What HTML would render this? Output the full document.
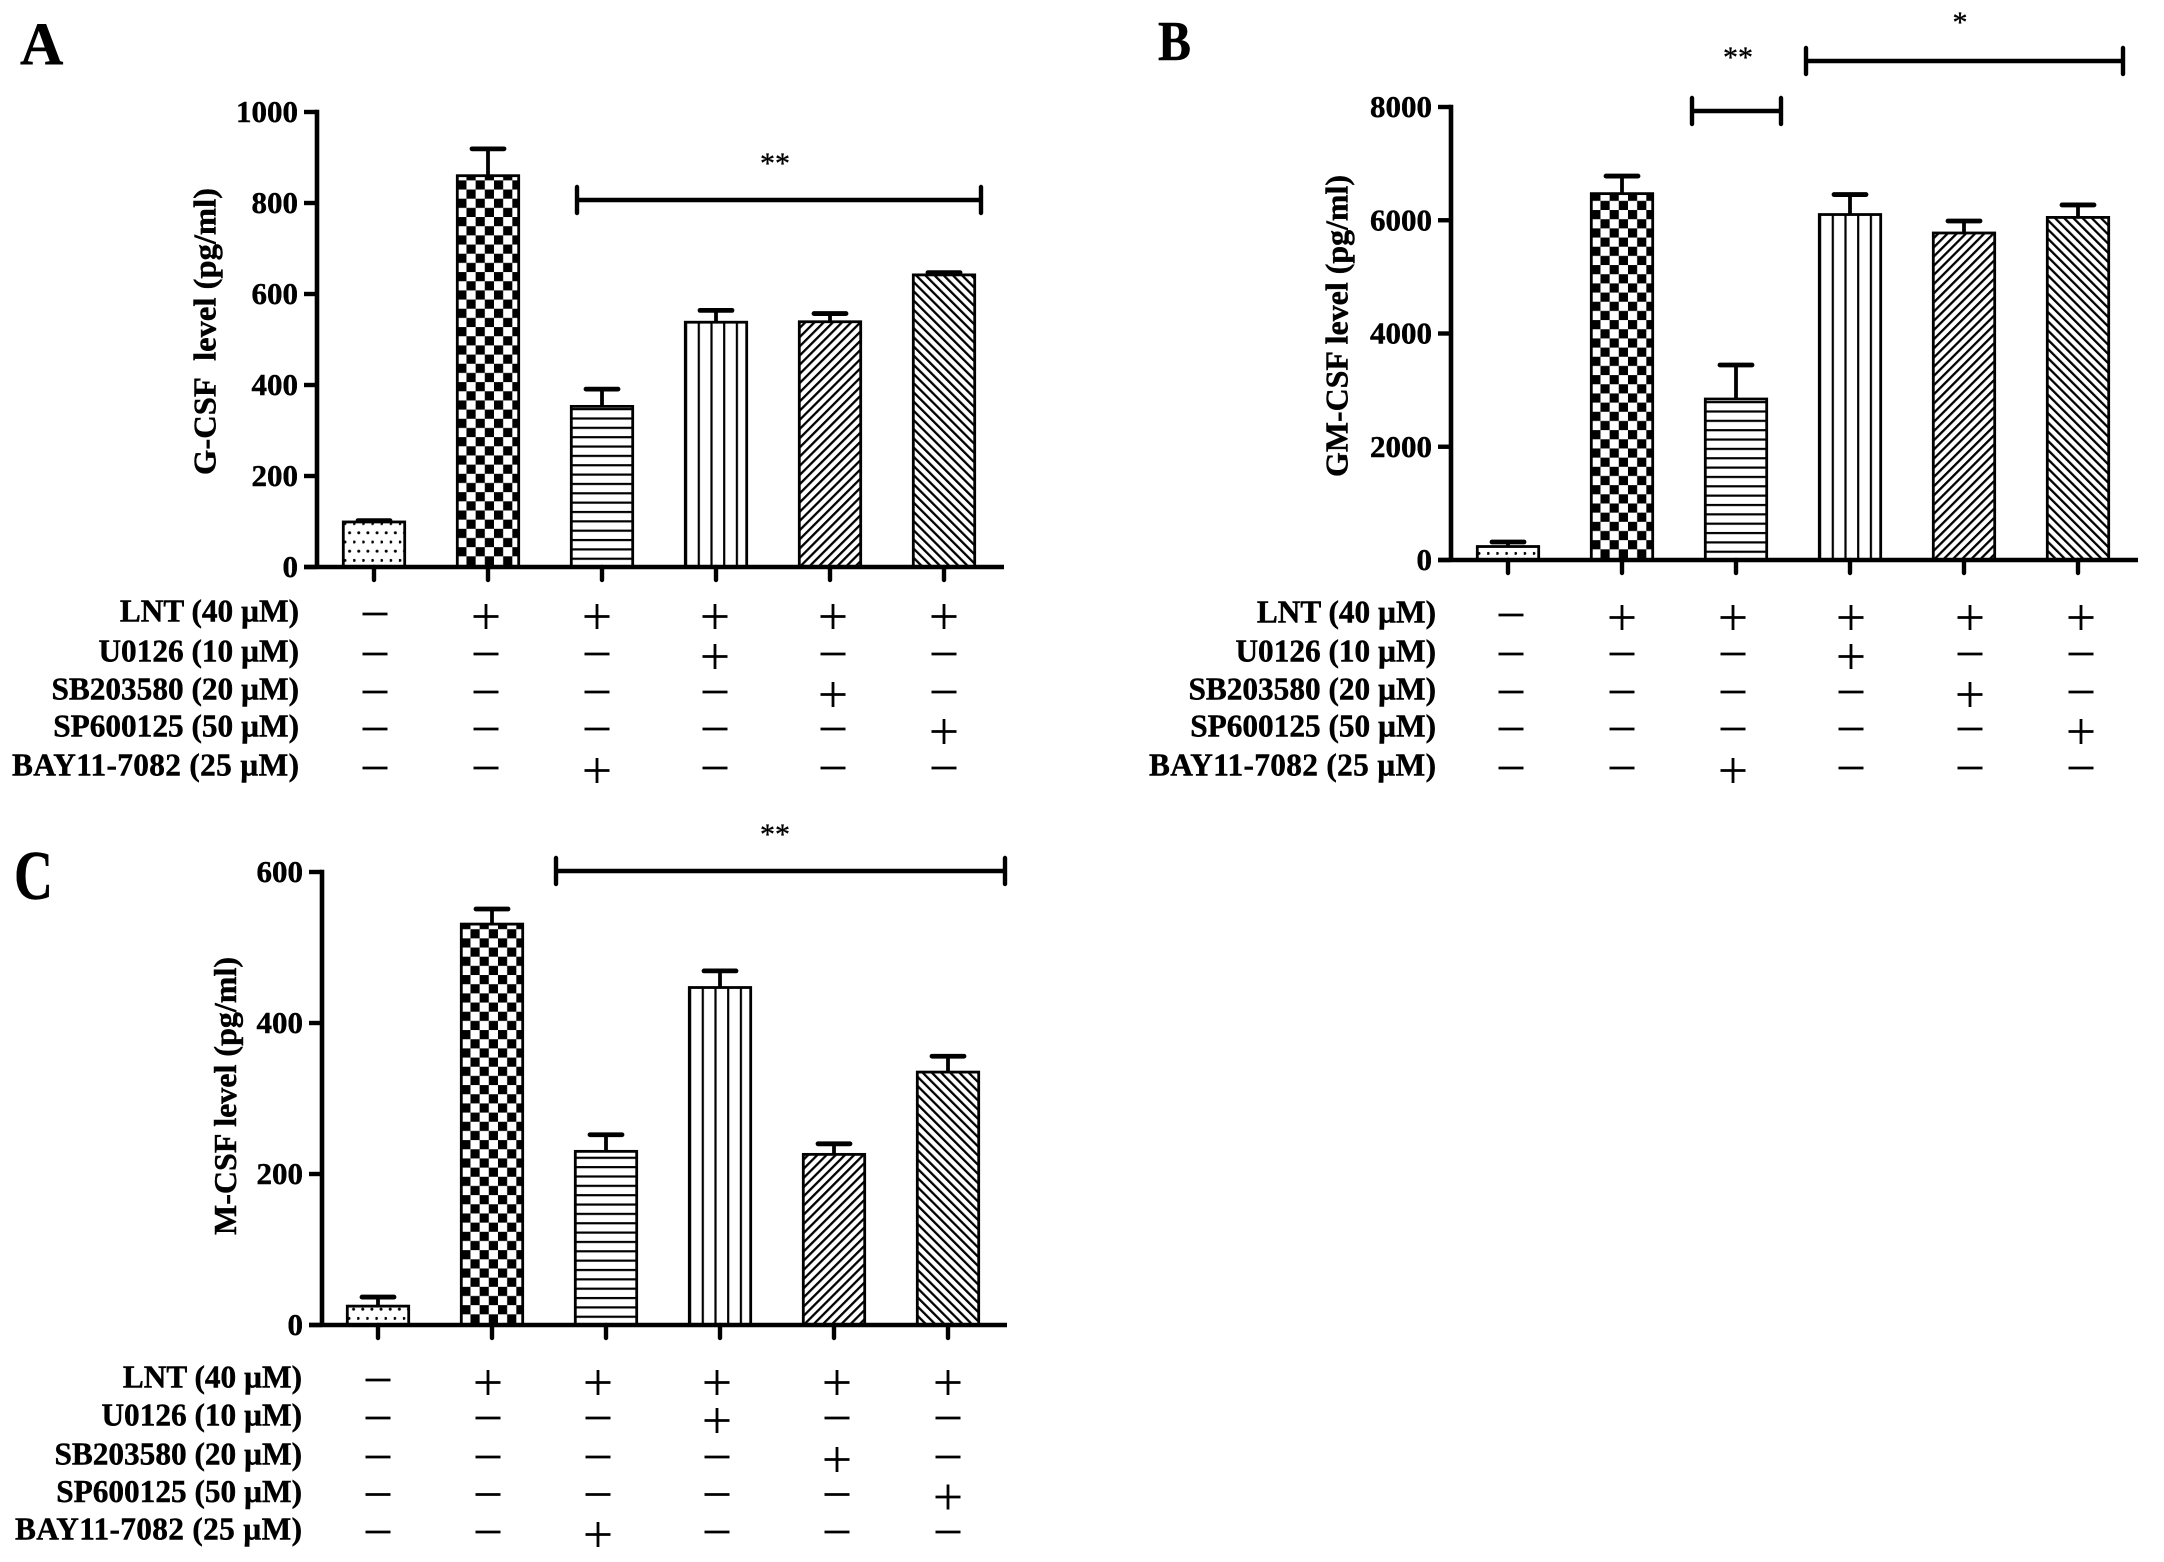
<!DOCTYPE html>
<html lang="en">
<head>
<meta charset="utf-8">
<title>G-CSF, GM-CSF and M-CSF levels</title>
<style>
html,body{margin:0;padding:0;background:#fff;}
svg{display:block;}
text{font-family:"Liberation Serif",serif;fill:#000;}
.b{font-weight:bold;stroke:#000;stroke-width:0.45px;}
.s{stroke:#000;stroke-width:0.35px;}
</style>
</head>
<body>
<svg id="figure" xmlns="http://www.w3.org/2000/svg" width="2164" height="1562" viewBox="0 0 2164 1562">
  <rect width="2164" height="1562" fill="#fff"/>
  <defs id="defs"></defs>
  <text class="b" x="20" y="64" font-size="60">A</text>
  <text class="b" x="1158" y="60" font-size="56" textLength="33" lengthAdjust="spacingAndGlyphs">B</text>
  <text class="b" x="14" y="899" font-size="70" textLength="39" lengthAdjust="spacingAndGlyphs">C</text>
  <text class="b" font-size="32" text-anchor="middle" transform="translate(215.5 331.5) rotate(-90)" textLength="287" lengthAdjust="spacingAndGlyphs">G-CSF&#160;&#160;level (pg/ml)</text>
  <text class="b" font-size="32" text-anchor="middle" transform="translate(1347.5 326) rotate(-90)" textLength="302" lengthAdjust="spacingAndGlyphs">GM-CSF level (pg/ml)</text>
  <text class="b" font-size="32" text-anchor="middle" transform="translate(236 1096) rotate(-90)" textLength="278" lengthAdjust="spacingAndGlyphs">M-CSF level (pg/ml)</text>
  <text class="s" x="775" y="173" font-size="30" text-anchor="middle">**</text>
  <text class="s" x="1738" y="67" font-size="30" text-anchor="middle">**</text>
  <text class="s" x="1960" y="32" font-size="30" text-anchor="middle">*</text>
  <text class="s" x="775" y="844" font-size="30" text-anchor="middle">**</text>
</svg>
<script>
// ---- chart data ----
const gcsfValues  = [99, 860, 353, 538, 539, 642];
const gcsfErrors  = [3, 59, 38, 26, 18, 5];
const gcsfTicks   = [0, 200, 400, 600, 800, 1000];
const gmcsfValues = [238, 6470, 2843, 6101, 5775, 6050];
const gmcsfErrors = [80, 310, 601, 353, 212, 220];
const gmcsfTicks  = [0, 2000, 4000, 6000, 8000];
const mcsfValues  = [25, 531, 230, 447, 226, 335];
const mcsfErrors  = [12, 20, 22, 22, 14, 21];
const mcsfTicks   = [0, 200, 400, 600];
const treatmentLabels = ["LNT (40 \u00b5M)", "U0126 (10 \u00b5M)", "SB203580 (20 \u00b5M)", "SP600125 (50 \u00b5M)", "BAY11-7082 (25 \u00b5M)"];
const treatmentLnt = [0, 1, 1, 1, 1, 1];
const treatmentU0126 = [0, 0, 0, 1, 0, 0];
const treatmentSb = [0, 0, 0, 0, 1, 0];
const treatmentSp = [0, 0, 0, 0, 0, 1];
const treatmentBay = [0, 0, 1, 0, 0, 0];
const treatmentRows = [treatmentLnt, treatmentU0126, treatmentSb, treatmentSp, treatmentBay];
const barPatterns = ["dots", "checks", "hlines", "vlines", "diagup", "diagdown"];

// ---- drawing ----
const NS = "http://www.w3.org/2000/svg";
const svg = document.getElementById("figure");
const defs = document.getElementById("defs");
function mk(tag, attrs, parent) {
  const e = document.createElementNS(NS, tag);
  for (const k in attrs) e.setAttribute(k, attrs[k]);
  (parent || svg).appendChild(e);
  return e;
}
function makePattern(id, kind, left, y0) {
  let w, h, tf;
  if (kind === "dots") { w = 9.15; h = 18.4; tf = "translate(" + (left + 2) + " " + (y0 - 2) + ")"; }
  if (kind === "checks") { w = 18.34; h = 18.34; tf = "translate(" + (left + 1.3) + " " + (y0 - 1.5) + ")"; }
  if (kind === "hlines") { w = 10; h = 9.35; tf = "translate(" + left + " " + y0 + ")"; }
  if (kind === "vlines") { w = 12.7; h = 10; tf = "translate(" + (left + 1) + " 0)"; }
  if (kind === "diagup") { w = 6.5; h = 10; tf = "translate(" + left + " " + y0 + ") rotate(45)"; }
  if (kind === "diagdown") { w = 6.5; h = 10; tf = "translate(" + left + " " + y0 + ") rotate(-45)"; }
  const p = mk("pattern", {id: id, patternUnits: "userSpaceOnUse", width: w, height: h, patternTransform: tf}, defs);
  if (kind === "dots") {
    mk("circle", {cx: 1, cy: 13.8, r: 1.5, fill: "#000"}, p);
    mk("circle", {cx: 5.6, cy: 4.6, r: 1.5, fill: "#000"}, p);
  } else if (kind === "checks") {
    mk("rect", {x: 9.17, y: 9.17, width: 9.17, height: 9.17, fill: "#000"}, p);
    mk("rect", {x: 0, y: 0, width: 9.17, height: 9.17, fill: "#000"}, p);
  } else if (kind === "hlines") {
    mk("rect", {x: 0, y: 0, width: 10, height: 2.2, fill: "#000"}, p);
  } else if (kind === "vlines") {
    mk("rect", {x: 0, y: 0, width: 2.2, height: 10, fill: "#000"}, p);
  } else {
    mk("rect", {x: 0, y: 0, width: 2.3, height: 10, fill: "#000"}, p);
  }
}
function drawPanel(cfg, values, errors, ticks) {
  const yScale = v => cfg.y0 - (v / cfg.yMax) * (cfg.y0 - cfg.yTop);
  const xScale = i => cfg.x0 + i * cfg.step;
  const g = mk("g", {});
  
  
  values.forEach((v, i) => {
    const cx = xScale(i), left = cx - 32, top = yScale(v);
    const pid = cfg.name + "-pat-" + i;
    makePattern(pid, barPatterns[i], left, cfg.y0);
    const cap = yScale(v + errors[i]);
    const stem = mk("line", {x1: cx, x2: cx, y1: top, y2: cap, stroke: "#000", "stroke-width": 3.8}, g);
    
    
    const capLine = mk("line", {x1: cx - 16, x2: cx + 16, y1: cap, y2: cap, stroke: "#000", "stroke-width": 4.8, "stroke-linecap": "round"}, g);
    
    
    const bar = mk("rect", {x: left + 1.3, y: top, width: 61.4, height: cfg.y0 - top, fill: "url(#" + pid + ")", stroke: "#000", "stroke-width": 2.8}, g);
    
    
    const tick = mk("line", {x1: cx, x2: cx, y1: cfg.y0, y2: cfg.y0 + 13, stroke: "#000", "stroke-width": 4.4, "stroke-linecap": "round"}, g);
    
    
  });
  const yAxis = mk("line", {x1: cfg.axisX, x2: cfg.axisX, y1: cfg.yTop - 2.2, y2: cfg.y0, stroke: "#000", "stroke-width": 4.6}, g);
  
  
  const xAxis = mk("line", {x1: cfg.axisX - 13, x2: cfg.xEnd, y1: cfg.y0, y2: cfg.y0, stroke: "#000", "stroke-width": 4.6}, g);
  
  
  ticks.forEach(t => {
    const y = yScale(t);
    const tl = mk("line", {x1: cfg.axisX - 13, x2: cfg.axisX, y1: y, y2: y, stroke: "#000", "stroke-width": 4.4}, g);
    
    
    const lab = mk("text", {x: cfg.axisX - 19, y: y + 10, "font-size": 31, "text-anchor": "end", "class": "b"}, g);
    
    
    lab.textContent = t;
  });
  treatmentLabels.forEach((label, r) => {
    const rowY = cfg.rowY[r];
    const t = mk("text", {x: cfg.labelX, y: rowY + 6.5, "font-size": 31.3, "text-anchor": "end", "class": "b"}, g);
    
    
    t.textContent = label;
    if (r === 4) t.setAttribute('textLength', '287');
    treatmentRows[r].forEach((on, c) => {
      const sx = xScale(c) + cfg.symbolShift[c];
      const sy = rowY + (on ? 1.5 : -1);
      const h = mk("line", {x1: sx - 12.5, x2: sx + 12.5, y1: sy, y2: sy, stroke: "#000", "stroke-width": 2.8}, g);
      
      
      if (on) {
        const vl = mk("line", {x1: sx, x2: sx, y1: sy - 12.5, y2: sy + 12.5, stroke: "#000", "stroke-width": 2.8}, g);
        
        
      }
    });
  });
  cfg.brackets.forEach(br => {
    const m = mk("line", {x1: br.a, x2: br.b, y1: br.y, y2: br.y, stroke: "#000", "stroke-width": 4.4}, g);
    
    
    const c1 = mk("line", {x1: br.a, x2: br.a, y1: br.y - 13, y2: br.y + 13, stroke: "#000", "stroke-width": 4.4, "stroke-linecap": "round"}, g);
    
    
    const c2 = mk("line", {x1: br.b, x2: br.b, y1: br.y - 13, y2: br.y + 13, stroke: "#000", "stroke-width": 4.4, "stroke-linecap": "round"}, g);
    
    
  });
}
drawPanel({name: "g-csf", x0: 374, step: 114, y0: 567, yTop: 112, yMax: 1000, axisX: 317, xEnd: 1004, labelX: 299,
  rowY: [615, 655, 693, 730, 769], symbolShift: [1, -2, -5, -1, 3, 0],
  brackets: [{a: 577, b: 981, y: 200}]}, gcsfValues, gcsfErrors, gcsfTicks);
drawPanel({name: "gm-csf", x0: 1508, step: 114, y0: 560, yTop: 107, yMax: 8000, axisX: 1451, xEnd: 2138, labelX: 1436,
  rowY: [616, 655, 693, 730, 769], symbolShift: [3, 0, -3, 1, 6, 3],
  brackets: [{a: 1692, b: 1781, y: 111}, {a: 1806, b: 2123, y: 61}]}, gmcsfValues, gmcsfErrors, gmcsfTicks);
drawPanel({name: "m-csf", x0: 378, step: 114, y0: 1325, yTop: 872, yMax: 600, axisX: 322, xEnd: 1007, labelX: 302,
  rowY: [1381, 1419, 1458, 1495.5, 1533], symbolShift: [0, -4, -8, -3, 3, 0],
  brackets: [{a: 556, b: 1005, y: 871}]}, mcsfValues, mcsfErrors, mcsfTicks);
</script>
</body>
</html>
